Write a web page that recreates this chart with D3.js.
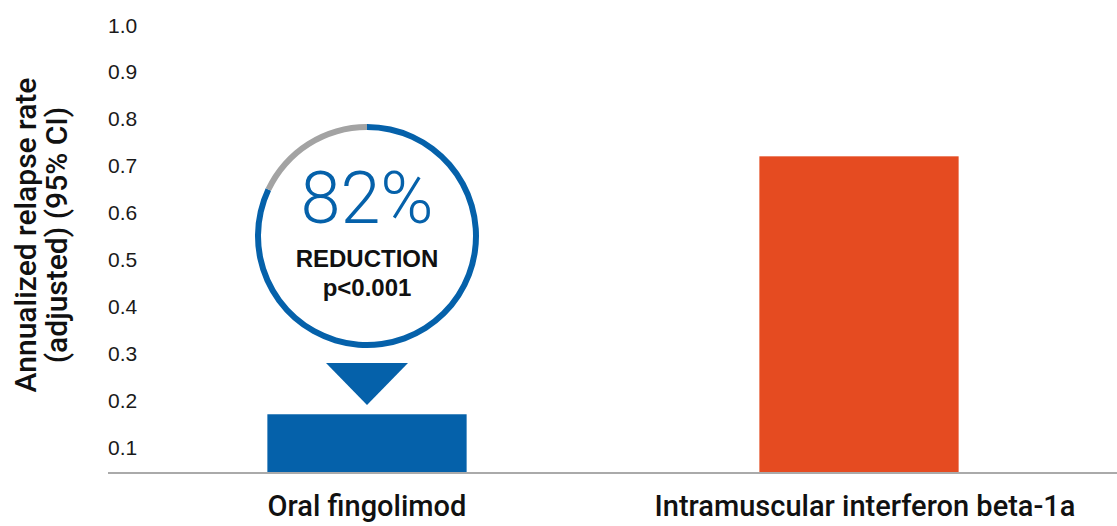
<!DOCTYPE html>
<html lang="en">
<head>
    <meta charset="utf-8">
    <title>Annualized relapse rate</title>
    <script src="https://cdn.jsdelivr.net/npm/d3@7"></script>
    <style>
        body { margin: 0; background: #fff; }
    </style>
</head>
<body>
    <div class="chart"></div>

    <script>
        // data
        const categories = ["Oral fingolimod", "Intramuscular interferon beta-1a"];
        const rates = [0.17, 0.72];
        const barColors = ["#0561aa", "#e54b21"];
        const tickValues = [0.1, 0.2, 0.3, 0.4, 0.5, 0.6, 0.7, 0.8, 0.9, 1.0];
        const yTitle = ["Annualized relapse rate", "(adjusted) (95% CI)"];
        const reduction = 0.82;
        const badgeLines = ["82%", "REDUCTION", "p<0.001"];

        const w = 1117;
        const h = 526;
        const axisY = 473;

        const svg = d3.select(".chart").append("svg")
            .attr("width", w)
            .attr("height", h);

        const x = d3.scaleBand()
            .domain(categories)
            .range([121, 1105])
            .paddingInner(0.595)
            .paddingOuter(0.2975);

        const y = d3.scaleLinear()
            .domain([0, 1])
            .range([494, 25]);

        // tick labels (no tick lines, left aligned)
        svg.selectAll(".tick-label")
            .data(tickValues)
            .enter()
            .append("text")
                .attr("class", "tick-label")
                .attr("x", 108)
                .attr("y", d => y(d))
                .attr("dy", "0.36em")
                .attr("font-family", "Liberation Sans, Arial, sans-serif")
                .attr("font-size", 21)
                .attr("fill", "#1a1a1a")
                .text(d3.format(".1f"));

        // y title, two lines
        const title = svg.append("text")
            .attr("transform", "translate(0,235) rotate(-90)")
            .attr("text-anchor", "middle")
            .attr("font-family", "Roboto, sans-serif")
            .attr("font-weight", 500)
            .attr("font-size", 30)
            .attr("fill", "#111");
        title.selectAll("tspan")
            .data(yTitle)
            .enter()
            .append("tspan")
                .attr("x", 0)
                .attr("y", (d, i) => 36 + i * 31)
                .text(d => d);

        // bars
        svg.selectAll(".bar")
            .data(rates)
            .enter()
            .append("rect")
                .attr("class", "bar")
                .attr("x", (d, i) => x(categories[i]))
                .attr("y", d => y(d))
                .attr("width", x.bandwidth())
                .attr("height", d => axisY - y(d))
                .attr("fill", (d, i) => barColors[i]);

        // baseline
        svg.append("line")
            .attr("x1", 108)
            .attr("x2", w)
            .attr("y1", axisY)
            .attr("y2", axisY)
            .attr("stroke", "#aaa")
            .attr("stroke-width", 2);

        // category labels
        svg.selectAll(".cat-label")
            .data(categories)
            .enter()
            .append("text")
                .attr("class", "cat-label")
                .attr("x", (d, i) => x(d) + x.bandwidth() / 2 + i * 6)
                .attr("y", 516)
                .attr("text-anchor", "middle")
                .attr("font-family", "Roboto, sans-serif")
                .attr("font-weight", 500)
                .attr("font-size", 29)
                .attr("fill", "#111")
                .text(d => d);

        // reduction badge above the fingolimod bar
        const cx = x(categories[0]) + x.bandwidth() / 2;
        const badge = svg.append("g")
            .attr("transform", "translate(" + cx + ",236)");

        const arc = d3.arc()
            .innerRadius(106)
            .outerRadius(112);

        badge.append("path")
            .attr("d", arc({ startAngle: 0, endAngle: 2 * Math.PI * reduction }))
            .attr("fill", barColors[0]);
        badge.append("path")
            .attr("d", arc({ startAngle: 2 * Math.PI * reduction, endAngle: 2 * Math.PI }))
            .attr("fill", "#a3a3a3");

        badge.append("text")
            .attr("y", -13)
            .attr("text-anchor", "middle")
            .attr("font-family", "Roboto, sans-serif")
            .attr("font-weight", 300)
            .attr("font-size", 72)
            .attr("fill", barColors[0])
            .text(badgeLines[0]);

        badge.append("text")
            .attr("y", 31)
            .attr("text-anchor", "middle")
            .attr("font-family", "Liberation Sans, Arial, sans-serif")
            .attr("font-weight", "bold")
            .attr("font-size", 24)
            .attr("fill", "#111")
            .text(badgeLines[1]);

        badge.append("text")
            .attr("y", 60)
            .attr("text-anchor", "middle")
            .attr("font-family", "Liberation Sans, Arial, sans-serif")
            .attr("font-weight", "bold")
            .attr("font-size", 24)
            .attr("fill", "#111")
            .text(badgeLines[2]);

        // pointer triangle
        badge.append("path")
            .attr("d", d3.line()([[-41, 127], [41, 127], [0, 169]]) + "Z")
            .attr("fill", barColors[0]);
    </script>
</body>
</html>
